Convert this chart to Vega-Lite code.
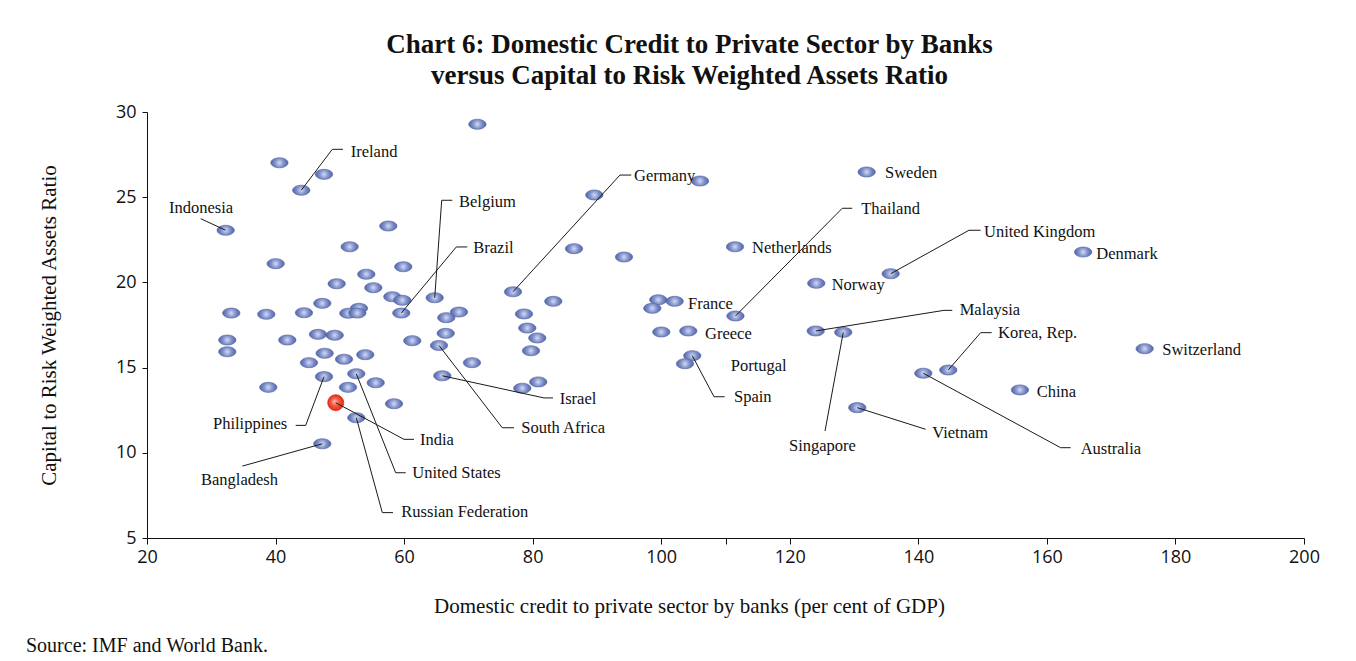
{
  "$schema": "https://vega.github.io/schema/vega-lite/v6.json",
  "background": "white",
  "padding": {"left": 25, "top": 31, "right": 10, "bottom": 5},
  "title": {
    "text": "Source: IMF and World Bank.",
    "orient": "bottom",
    "anchor": "start",
    "frame": "bounds",
    "font": "Liberation Serif",
    "fontSize": 20,
    "fontWeight": "normal",
    "color": "#111111",
    "dx": -12,
    "offset": 20
  },
  "datasets": {
    "pts": [
      {"credit": 71.4, "car": 29.28},
      {"credit": 40.6, "car": 27.02},
      {"credit": 47.54, "car": 26.34},
      {"country": "Ireland", "credit": 44.0, "car": 25.41},
      {"country": "Indonesia", "credit": 32.24, "car": 23.06},
      {"credit": 57.54, "car": 23.31},
      {"credit": 51.53, "car": 22.09},
      {"credit": 40.02, "car": 21.1},
      {"credit": 59.87, "car": 20.92},
      {"credit": 54.12, "car": 20.48},
      {"credit": 49.51, "car": 19.92},
      {"credit": 55.21, "car": 19.69},
      {"country": "Belgium", "credit": 64.76, "car": 19.1},
      {"credit": 58.16, "car": 19.16},
      {"credit": 59.72, "car": 18.95},
      {"country": "Brazil", "credit": 59.56, "car": 18.2},
      {"credit": 33.11, "car": 18.2},
      {"credit": 38.56, "car": 18.13},
      {"credit": 44.42, "car": 18.22},
      {"credit": 47.27, "car": 18.77},
      {"credit": 52.98, "car": 18.48},
      {"credit": 51.32, "car": 18.19},
      {"credit": 52.72, "car": 18.2},
      {"credit": 68.54, "car": 18.26},
      {"credit": 66.56, "car": 17.93},
      {"credit": 66.47, "car": 17.01},
      {"credit": 32.49, "car": 16.62},
      {"credit": 41.83, "car": 16.62},
      {"credit": 46.6, "car": 16.95},
      {"credit": 49.2, "car": 16.9},
      {"credit": 61.27, "car": 16.58},
      {"country": "South Africa", "credit": 65.43, "car": 16.3},
      {"credit": 32.49, "car": 15.93},
      {"credit": 45.2, "car": 15.29},
      {"credit": 47.64, "car": 15.84},
      {"credit": 50.65, "car": 15.49},
      {"credit": 53.96, "car": 15.76},
      {"credit": 70.56, "car": 15.29},
      {"country": "Philippines", "credit": 47.54, "car": 14.47},
      {"country": "United States", "credit": 52.56, "car": 14.64},
      {"credit": 55.58, "car": 14.11},
      {"credit": 38.87, "car": 13.84},
      {"credit": 51.27, "car": 13.84},
      {"country": "Israel", "credit": 65.94, "car": 14.52},
      {"country": "India", "credit": 49.36, "car": 12.94},
      {"credit": 58.43, "car": 12.88},
      {"country": "Russian Federation", "credit": 52.56, "car": 12.06},
      {"country": "Bangladesh", "credit": 47.27, "car": 10.53},
      {"country": "Germany", "credit": 76.94, "car": 19.45},
      {"credit": 89.59, "car": 25.13},
      {"credit": 106.03, "car": 25.95},
      {"credit": 86.43, "car": 21.98},
      {"credit": 94.21, "car": 21.49},
      {"country": "Netherlands", "credit": 111.48, "car": 22.09},
      {"credit": 83.21, "car": 18.89},
      {"credit": 78.65, "car": 18.15},
      {"credit": 79.16, "car": 17.32},
      {"credit": 80.72, "car": 16.74},
      {"credit": 79.74, "car": 15.99},
      {"credit": 78.39, "car": 13.79},
      {"credit": 80.87, "car": 14.16},
      {"credit": 99.54, "car": 18.98},
      {"country": "France", "credit": 102.09, "car": 18.89},
      {"credit": 98.61, "car": 18.48},
      {"country": "Thailand", "credit": 111.55, "car": 18.03},
      {"credit": 100.01, "car": 17.09},
      {"country": "Greece", "credit": 104.21, "car": 17.15},
      {"country": "Spain", "credit": 104.83, "car": 15.7},
      {"country": "Portugal", "credit": 103.7, "car": 15.23},
      {"country": "Sweden", "credit": 131.96, "car": 26.48},
      {"country": "Norway", "credit": 124.12, "car": 19.95},
      {"country": "United Kingdom", "credit": 135.7, "car": 20.51},
      {"country": "Denmark", "credit": 165.64, "car": 21.78},
      {"country": "Malaysia", "credit": 124.03, "car": 17.15},
      {"country": "Singapore", "credit": 128.32, "car": 17.07},
      {"country": "Korea, Rep.", "credit": 144.66, "car": 14.86},
      {"country": "Australia", "credit": 140.77, "car": 14.67},
      {"country": "China", "credit": 155.81, "car": 13.69},
      {"country": "Vietnam", "credit": 130.5, "car": 12.65},
      {"country": "Switzerland", "credit": 175.21, "car": 16.11}
    ],
    "labels": [
      {"country": "Ireland", "lx": 51.69, "ly": 27.67},
      {"country": "Indonesia", "lx": 23.42, "ly": 24.38},
      {"country": "Belgium", "lx": 68.54, "ly": 24.74},
      {"country": "Brazil", "lx": 70.76, "ly": 22.04},
      {"country": "Germany", "lx": 95.76, "ly": 26.24},
      {"country": "Netherlands", "lx": 114.12, "ly": 22.02},
      {"country": "France", "lx": 104.16, "ly": 18.75},
      {"country": "Greece", "lx": 106.81, "ly": 16.95},
      {"country": "Portugal", "lx": 110.81, "ly": 15.09},
      {"country": "Spain", "lx": 111.32, "ly": 13.29},
      {"country": "Israel", "lx": 84.2, "ly": 13.14},
      {"country": "South Africa", "lx": 78.23, "ly": 11.47},
      {"country": "Philippines", "lx": 30.27, "ly": 11.67},
      {"country": "India", "lx": 62.47, "ly": 10.75},
      {"country": "United States", "lx": 61.27, "ly": 8.83},
      {"country": "Russian Federation", "lx": 59.56, "ly": 6.53},
      {"country": "Bangladesh", "lx": 28.4, "ly": 8.39},
      {"country": "Thailand", "lx": 131.12, "ly": 24.29},
      {"country": "Sweden", "lx": 134.81, "ly": 26.42},
      {"country": "United Kingdom", "lx": 150.21, "ly": 22.96},
      {"country": "Norway", "lx": 126.52, "ly": 19.83},
      {"country": "Denmark", "lx": 167.68, "ly": 21.65},
      {"country": "Malaysia", "lx": 146.43, "ly": 18.36},
      {"country": "Korea, Rep.", "lx": 152.39, "ly": 17.01},
      {"country": "Switzerland", "lx": 177.95, "ly": 16.03},
      {"country": "China", "lx": 158.41, "ly": 13.57},
      {"country": "Singapore", "lx": 119.88, "ly": 10.4},
      {"country": "Vietnam", "lx": 142.17, "ly": 11.14},
      {"country": "Australia", "lx": 165.25, "ly": 10.24}
    ],
    "leaders": [
      {"country": "Ireland", "step": 0, "lx": 44.0, "ly": 25.41},
      {"country": "Ireland", "step": 1, "lx": 48.83, "ly": 27.81},
      {"country": "Ireland", "step": 2, "lx": 50.49, "ly": 27.81},
      {"country": "Indonesia", "step": 0, "lx": 32.24, "ly": 23.06},
      {"country": "Indonesia", "step": 1, "lx": 28.35, "ly": 23.74},
      {"country": "Belgium", "step": 0, "lx": 64.76, "ly": 19.1},
      {"country": "Belgium", "step": 1, "lx": 65.85, "ly": 24.82},
      {"country": "Belgium", "step": 2, "lx": 67.5, "ly": 24.82},
      {"country": "Brazil", "step": 0, "lx": 59.56, "ly": 18.2},
      {"country": "Brazil", "step": 1, "lx": 68.12, "ly": 22.08},
      {"country": "Brazil", "step": 2, "lx": 69.83, "ly": 22.08},
      {"country": "Germany", "step": 0, "lx": 76.94, "ly": 19.45},
      {"country": "Germany", "step": 1, "lx": 93.58, "ly": 26.3},
      {"country": "Germany", "step": 2, "lx": 95.34, "ly": 26.3},
      {"country": "Spain", "step": 0, "lx": 104.83, "ly": 15.7},
      {"country": "Spain", "step": 1, "lx": 108.21, "ly": 13.29},
      {"country": "Spain", "step": 2, "lx": 109.87, "ly": 13.29},
      {"country": "Israel", "step": 0, "lx": 65.94, "ly": 14.52},
      {"country": "Israel", "step": 1, "lx": 81.76, "ly": 13.22},
      {"country": "Israel", "step": 2, "lx": 83.16, "ly": 13.22},
      {"country": "South Africa", "step": 0, "lx": 65.43, "ly": 16.3},
      {"country": "South Africa", "step": 1, "lx": 75.27, "ly": 11.47},
      {"country": "South Africa", "step": 2, "lx": 77.09, "ly": 11.47},
      {"country": "Philippines", "step": 0, "lx": 47.54, "ly": 14.47},
      {"country": "Philippines", "step": 1, "lx": 44.69, "ly": 11.61},
      {"country": "Philippines", "step": 2, "lx": 43.13, "ly": 11.61},
      {"country": "India", "step": 0, "lx": 49.36, "ly": 12.94},
      {"country": "India", "step": 1, "lx": 59.98, "ly": 10.79},
      {"country": "India", "step": 2, "lx": 61.54, "ly": 10.79},
      {"country": "United States", "step": 0, "lx": 52.56, "ly": 14.64},
      {"country": "United States", "step": 1, "lx": 58.69, "ly": 8.83},
      {"country": "United States", "step": 2, "lx": 60.25, "ly": 8.83},
      {"country": "Russian Federation", "step": 0, "lx": 52.56, "ly": 12.06},
      {"country": "Russian Federation", "step": 1, "lx": 56.61, "ly": 6.49},
      {"country": "Russian Federation", "step": 2, "lx": 58.27, "ly": 6.49},
      {"country": "Bangladesh", "step": 0, "lx": 47.27, "ly": 10.53},
      {"country": "Bangladesh", "step": 1, "lx": 34.83, "ly": 9.22},
      {"country": "Thailand", "step": 0, "lx": 111.55, "ly": 18.03},
      {"country": "Thailand", "step": 1, "lx": 128.17, "ly": 24.35},
      {"country": "Thailand", "step": 2, "lx": 129.72, "ly": 24.35},
      {"country": "United Kingdom", "step": 0, "lx": 135.7, "ly": 20.51},
      {"country": "United Kingdom", "step": 1, "lx": 147.88, "ly": 23.06},
      {"country": "United Kingdom", "step": 2, "lx": 149.7, "ly": 23.06},
      {"country": "Malaysia", "step": 0, "lx": 124.03, "ly": 17.15},
      {"country": "Malaysia", "step": 1, "lx": 143.99, "ly": 18.36},
      {"country": "Malaysia", "step": 2, "lx": 145.28, "ly": 18.36},
      {"country": "Korea, Rep.", "step": 0, "lx": 144.66, "ly": 14.86},
      {"country": "Korea, Rep.", "step": 1, "lx": 149.7, "ly": 17.05},
      {"country": "Korea, Rep.", "step": 2, "lx": 151.41, "ly": 17.05},
      {"country": "Singapore", "step": 0, "lx": 128.32, "ly": 17.07},
      {"country": "Singapore", "step": 1, "lx": 125.48, "ly": 11.28},
      {"country": "Vietnam", "step": 0, "lx": 130.5, "ly": 12.65},
      {"country": "Vietnam", "step": 1, "lx": 141.14, "ly": 11.38},
      {"country": "Australia", "step": 0, "lx": 140.77, "ly": 14.67},
      {"country": "Australia", "step": 1, "lx": 162.14, "ly": 10.3},
      {"country": "Australia", "step": 2, "lx": 163.7, "ly": 10.3}
    ]
  },
  "vconcat": [
    {
      "width": 1157,
      "height": 426,
      "title": {
        "text": ["Chart 6: Domestic Credit to Private Sector by Banks", "versus  Capital to Risk Weighted Assets Ratio"],
        "anchor": "middle",
        "font": "Liberation Serif",
        "fontSize": 27,
        "fontWeight": "bold",
        "lineHeight": 31,
        "color": "#111111",
        "dx": -36,
        "offset": 13
      },
      "layer": [
        {
          "data": {"name": "pts"},
          "transform": [{"filter": "datum.country !== 'India'"}],
          "mark": {
            "type": "point",
            "filled": true,
            "shape": "M -1 0 A 1 0.58 0 1 0 1 0 A 1 0.58 0 1 0 -1 0 Z",
            "size": 300,
            "opacity": 1,
            "fill": {
              "gradient": "radial",
              "x1": 0.5, "y1": 0.5, "r1": 0,
              "x2": 0.5, "y2": 0.5, "r2": 0.5,
              "stops": [
                {"offset": 0, "color": "#d4dcf4"},
                {"offset": 0.5, "color": "#8292cc"},
                {"offset": 1, "color": "#5163a4"}
              ]
            },
            "stroke": "#5263a0",
            "strokeWidth": 0.6
          },
          "encoding": {
            "x": {
              "field": "credit", "type": "quantitative",
              "scale": {"domain": [20, 200], "nice": false, "zero": false},
              "axis": {
                "title": "Domestic credit to private sector by banks (per cent of GDP)",
                "values": [20, 40, 60, 80, 100, 110, 120, 140, 160, 180, 200],
                "labelExpr": "datum.value == 110 ? '' : datum.label",
                "labelFlush": false,
                "titleX": 542,
                "titleY": 68,
                "titleBaseline": "middle",
                "titleAnchor": "middle",
                "titleAlign": "center"
              }
            },
            "y": {
              "field": "car", "type": "quantitative",
              "scale": {"domain": [5, 30], "nice": false, "zero": false},
              "axis": {
                "title": "Capital to Risk Weighted Assets Ratio",
                "values": [5, 10, 15, 20, 25, 30],
                "labelFlush": false,
                "titleX": -98,
                "titleBaseline": "middle",
                "titleAlign": "center"
              }
            }
          }
        },
        {
          "data": {"name": "pts"},
          "transform": [{"filter": "datum.country === 'India'"}],
          "mark": {
            "type": "point",
            "filled": true,
            "shape": "circle",
            "size": 256,
            "opacity": 1,
            "fill": {
              "gradient": "radial",
              "x1": 0.42, "y1": 0.4, "r1": 0,
              "x2": 0.5, "y2": 0.5, "r2": 0.5,
              "stops": [
                {"offset": 0, "color": "#ffc0b0"},
                {"offset": 0.5, "color": "#f45a43"},
                {"offset": 1, "color": "#e02a18"}
              ]
            },
            "stroke": "#d8301e",
            "strokeWidth": 0.8
          },
          "encoding": {
            "x": {"field": "credit", "type": "quantitative"},
            "y": {"field": "car", "type": "quantitative"}
          }
        },
        {
          "data": {"name": "leaders"},
          "mark": {"type": "line", "color": "#1a1a1a", "strokeWidth": 1, "interpolate": "linear"},
          "encoding": {
            "x": {"field": "lx", "type": "quantitative"},
            "y": {"field": "ly", "type": "quantitative"},
            "detail": {"field": "country", "type": "nominal"},
            "order": {"field": "step", "type": "quantitative"}
          }
        },
        {
          "data": {"name": "labels"},
          "mark": {
            "type": "text",
            "align": "left",
            "baseline": "middle",
            "font": "Liberation Serif",
            "fontSize": 16.5,
            "color": "#111111"
          },
          "encoding": {
            "x": {"field": "lx", "type": "quantitative"},
            "y": {"field": "ly", "type": "quantitative"},
            "text": {"field": "country", "type": "nominal"}
          }
        }
      ]
    }
  ],
  "config": {
    "view": {"stroke": null},
    "axis": {
      "grid": false,
      "domainColor": "#111111",
      "domainWidth": 1,
      "tickColor": "#111111",
      "tickWidth": 1,
      "labelFont": "Open Sans",
      "labelFontSize": 18,
      "labelColor": "#111111",
      "titleFont": "Liberation Serif",
      "titleFontSize": 21,
      "titleFontWeight": "normal",
      "titleColor": "#111111"
    },
    "axisX": {"tickSize": 6, "labelPadding": 4},
    "axisY": {"tickSize": 5, "labelPadding": 6}
  }
}
